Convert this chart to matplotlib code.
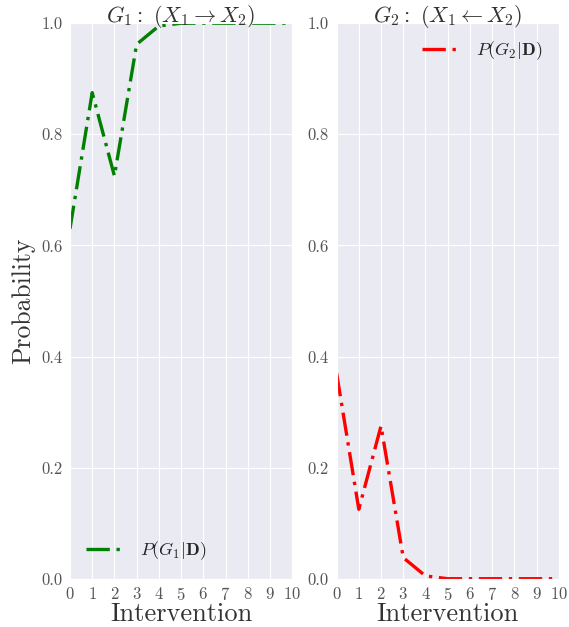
import matplotlib
matplotlib.use("Agg")
import matplotlib.pyplot as plt
import seaborn as sns

interventions = list(range(11))
p_g1 = [0.63, 0.875, 0.725, 0.962, 0.995, 1.0, 1.0, 1.0, 1.0, 1.0, 1.0]
p_g2 = [0.37, 0.125, 0.275, 0.038, 0.005, 0.0, 0.0, 0.0, 0.0, 0.0, 0.0]
y_ticks = [0.0, 0.2, 0.4, 0.6, 0.8, 1.0]

sns.set_style("darkgrid")
plt.rcParams.update({
    "font.family": "serif",
    "font.serif": ["cmr10", "DejaVu Serif"],
    "mathtext.fontset": "cm",
    "axes.formatter.use_mathtext": True,
    "axes.unicode_minus": False,
})

fig, axes = plt.subplots(1, 2, figsize=(5.69, 6.27), dpi=100)

panels = [
    (axes[0], p_g1, "green", r"$G_1:\ (X_1 \rightarrow X_2)$", r"$P(G_1|\mathbf{D})$", "lower left"),
    (axes[1], p_g2, "red", r"$G_2:\ (X_1 \leftarrow X_2)$", r"$P(G_2|\mathbf{D})$", "upper right"),
]

for ax, values, color, title, label, loc in panels:
    ax.plot(interventions, values, linestyle=(0, (7, 2, 1, 2)), color=color,
            linewidth=2.4, label=label)
    ax.set_xlim(0, 10)
    ax.set_ylim(0, 1)
    ax.set_xticks(interventions)
    ax.set_yticks(y_ticks)
    ax.set_yticklabels([f"{t:.1f}" for t in y_ticks])
    ax.tick_params(axis="both", labelsize=12, pad=2, colors="#555555")
    ax.set_title(title, fontsize=16, pad=1, color="#333333")
    ax.set_xlabel("Intervention", fontsize=19, labelpad=-1, color="#333333")
    ax.legend(loc=loc, frameon=False, fontsize=13, handlelength=2.2)

axes[0].set_ylabel("Probability", fontsize=18.5, color="#333333")

fig.subplots_adjust(left=0.123, right=0.982, top=0.963, bottom=0.077, wspace=0.2)
fig.savefig("out.png", dpi=100)
